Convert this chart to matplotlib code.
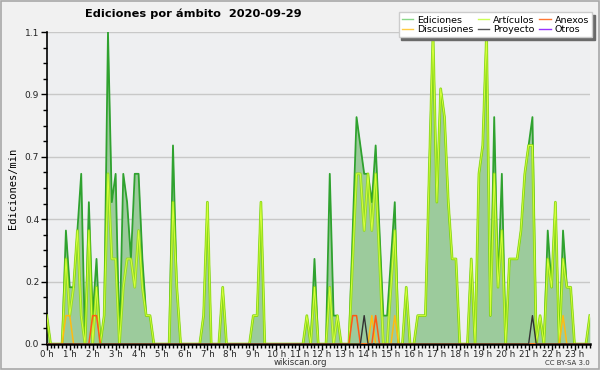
import numpy as np
import matplotlib

matplotlib.use("Agg")
import matplotlib.pyplot as plt
from matplotlib.lines import Line2D
from matplotlib.patches import Rectangle
from matplotlib.ticker import FixedLocator, MultipleLocator


TITLE = "Ediciones por ámbito  2020-09-29"
Y_LABEL = "Ediciones/min"
HOUR_LABELS = [f"{h} h" for h in range(24)]

# edits per minute, one value every 10 minutes, one row per hour
EDICIONES = [
    0.1, 0, 0, 0, 0, 0.4,
    0.2, 0.2, 0.4, 0.6, 0, 0.5,
    0.1, 0.3, 0, 0.1, 1.1, 0.5,
    0.6, 0, 0.6, 0.5, 0.3, 0.6,
    0.6, 0.3, 0.1, 0.1, 0, 0,
    0, 0, 0, 0.7, 0.2, 0,
    0, 0, 0, 0, 0, 0.1,
    0.5, 0, 0, 0, 0.2, 0,
    0, 0, 0, 0, 0, 0,
    0.1, 0.1, 0.5, 0, 0, 0,
    0, 0, 0, 0, 0, 0,
    0, 0, 0.1, 0, 0.3, 0,
    0, 0, 0.6, 0.1, 0.1, 0,
    0, 0, 0.4, 0.8, 0.7, 0.6,
    0.6, 0.5, 0.7, 0.4, 0.1, 0.1,
    0.3, 0.5, 0, 0, 0.2, 0,
    0, 0.1, 0.1, 0.1, 0.6, 1.1,
    0.5, 0.9, 0.8, 0.5, 0.3, 0.3,
    0, 0, 0, 0.3, 0, 0.6,
    0.7, 1.1, 0.1, 0.8, 0.2, 0.6,
    0, 0.3, 0.3, 0.3, 0.4, 0.6,
    0.7, 0.8, 0, 0.1, 0, 0.4,
    0.2, 0.5, 0, 0.4, 0.2, 0.2,
    0, 0, 0, 0, 0.1,
]
ARTICULOS = [
    0.1, 0, 0, 0, 0, 0.3,
    0.1, 0.2, 0.4, 0.1, 0, 0.4,
    0, 0.2, 0, 0.1, 0.6, 0.3,
    0.3, 0, 0.2, 0.3, 0.3, 0.2,
    0.4, 0.2, 0.1, 0.1, 0, 0,
    0, 0, 0, 0.5, 0.2, 0,
    0, 0, 0, 0, 0, 0.1,
    0.5, 0, 0, 0, 0.2, 0,
    0, 0, 0, 0, 0, 0,
    0.1, 0.1, 0.5, 0, 0, 0,
    0, 0, 0, 0, 0, 0,
    0, 0, 0.1, 0, 0.2, 0,
    0, 0, 0.2, 0, 0.1, 0,
    0, 0, 0.3, 0.6, 0.6, 0.4,
    0.6, 0.4, 0.6, 0.3, 0, 0,
    0.2, 0.4, 0, 0, 0.2, 0,
    0, 0.1, 0.1, 0.1, 0.6, 1.1,
    0.5, 0.9, 0.8, 0.5, 0.3, 0.3,
    0, 0, 0, 0.3, 0, 0.6,
    0.7, 1.1, 0.1, 0.6, 0.2, 0.4,
    0, 0.3, 0.3, 0.3, 0.4, 0.6,
    0.7, 0.7, 0, 0.1, 0, 0.3,
    0.2, 0.5, 0, 0.3, 0.2, 0.2,
    0, 0, 0, 0, 0.1,
]
# sparse series: (slot index, edits per minute)
DISCUSIONES = {5: 0.1, 6: 0.1, 85: 0.1, 91: 0.1, 135: 0.1}
ANEXOS = {12: 0.1, 13: 0.1, 80: 0.1, 81: 0.1, 86: 0.1}
PROYECTO = {83: 0.1, 127: 0.1}
OTROS = {}

N_SLOTS = len(EDICIONES)
Y_MAX = 1.1


def dense(sparse):
    values = np.zeros(N_SLOTS)
    for slot, value in sparse.items():
        values[slot] = value
    return values


hours = np.arange(N_SLOTS) / 6.0
ediciones = np.array(EDICIONES)
articulos = np.array(ARTICULOS)

fig = plt.figure(figsize=(6.0, 3.7), dpi=100, facecolor="#f1f1f1")
fig.add_artist(Rectangle((0.001, 0.002), 0.997, 0.996, transform=fig.transFigure,
                         fill=False, edgecolor="#a8a8a8", linewidth=1.2))
ax = fig.add_axes([0.078, 0.0703, 0.905, 0.8432], facecolor="#eeeff1")

ax.fill_between(hours, 0, ediciones, color="#9ccb9c", linewidth=0, zorder=1)
ax.plot(hours, ediciones, color="#2fa22f", linewidth=1.3, zorder=2)
ax.plot(hours, articulos, color="#8ee000", linewidth=2.0, alpha=0.75, zorder=3)
ax.plot(hours, articulos, color="#d8ff3c", linewidth=0.7, zorder=3)
ax.plot(hours, dense(DISCUSIONES), color="#ffbb11", linewidth=1.1, zorder=4)
ax.plot(hours, dense(ANEXOS), color="#ff5a14", linewidth=1.1, zorder=4)
ax.plot(hours, dense(PROYECTO), color="#333333", linewidth=1.0, zorder=4)
ax.plot(hours, dense(OTROS), color="#9933ff", linewidth=1.0, zorder=1.5)

ax.set_xlim(0, hours[-1])
ax.set_ylim(0, Y_MAX)
y_major = np.linspace(0, Y_MAX, 6)
ax.yaxis.set_major_locator(FixedLocator(y_major))
ax.yaxis.set_minor_locator(FixedLocator(np.linspace(0, Y_MAX, 21)))
ax.set_yticklabels([f"{v:.1f}" for v in y_major])
ax.xaxis.set_major_locator(FixedLocator(range(24)))
ax.xaxis.set_minor_locator(MultipleLocator(1 / 6))
ax.set_xticklabels(HOUR_LABELS)
ax.grid(axis="y", which="major", color="#c8c8c8", linewidth=1.0)
ax.set_axisbelow(True)

for side in ("top", "right"):
    ax.spines[side].set_visible(False)
ax.spines["left"].set_linewidth(1.2)
ax.spines["bottom"].set_linewidth(1.8)
ax.tick_params(axis="both", which="major", length=4, width=1.0,
               colors="black", labelcolor="#222222")
ax.tick_params(axis="y", which="major", labelsize=6.5, pad=1.5)
ax.tick_params(axis="x", which="major", labelsize=6.2, pad=0.5)
ax.tick_params(axis="y", which="minor", length=3, width=1.0)
ax.tick_params(axis="x", which="minor", length=3, width=1.0)
ax.set_ylabel(Y_LABEL, fontsize=7.5, family="DejaVu Sans Mono", labelpad=5)

fig.text(0.142, 0.962, TITLE, fontsize=8.2, fontweight="bold", ha="left", va="center")
fig.text(0.5, 0.02, "wikiscan.org", fontsize=6.2, ha="center", va="center", color="#333333")
fig.text(0.983, 0.02, "CC BY-SA 3.0", fontsize=5, ha="right", va="center", color="#333333")

handles = [
    Line2D([], [], color="#88d888", linewidth=1),
    Line2D([], [], color="#ffcc44", linewidth=1),
    Line2D([], [], color="#ccff55", linewidth=1),
    Line2D([], [], color="#555555", linewidth=1),
    Line2D([], [], color="#ff7733", linewidth=1),
    Line2D([], [], color="#9933ff", linewidth=1),
]
labels = ["Ediciones", "Discusiones", "Artículos", "Proyecto", "Anexos", "Otros"]
legend = fig.legend(handles, labels, ncol=3, loc="upper right",
                    bbox_to_anchor=(0.987, 0.967), fontsize=6.8, frameon=True,
                    fancybox=False, shadow={"color": "#6a6a6a", "alpha": 1.0},
                    edgecolor="#cccccc", framealpha=1.0, borderpad=0.35,
                    handlelength=1.2, handletextpad=0.4, columnspacing=0.5,
                    labelspacing=0.05, borderaxespad=0)

fig.savefig("out.png", dpi=100, facecolor=fig.get_facecolor())
